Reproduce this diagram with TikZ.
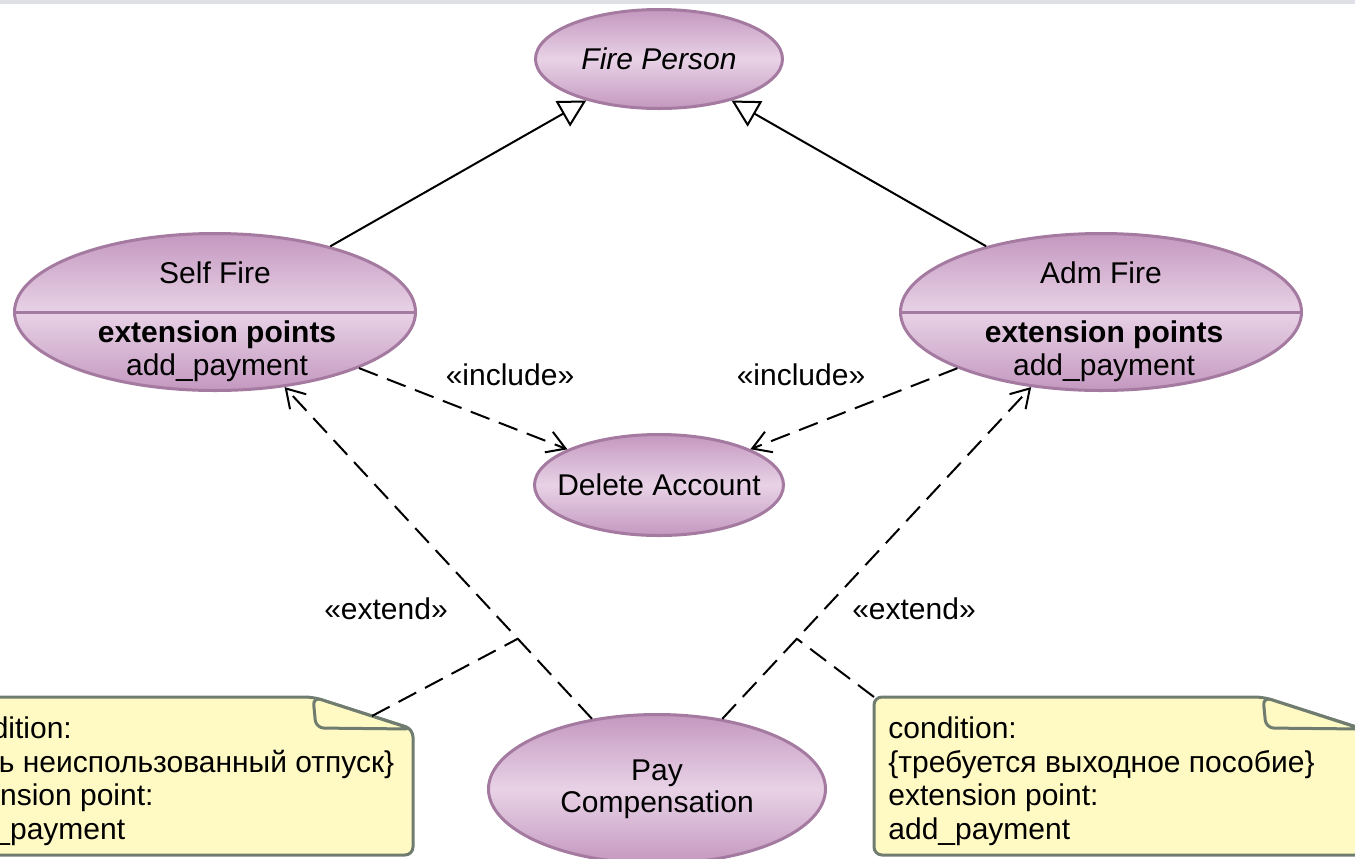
\documentclass[tikz,border=0pt]{standalone}
\usepackage{fontspec}
\setmainfont{Liberation Sans}
\usetikzlibrary{arrows.meta,calc,shapes.geometric}

\definecolor{ucfill}{RGB}{196,152,192}
\definecolor{ucmid}{RGB}{232,210,230}
\definecolor{ucline}{RGB}{164,122,160}
\definecolor{notefill}{RGB}{255,249,195}
\definecolor{noteline}{RGB}{112,124,112}
\definecolor{topbar}{RGB}{222,224,230}

\begin{document}
\begin{tikzpicture}[x=0.5pt,y=-0.5pt,font=\fontsize{15}{16.5}\selectfont,
usecase/.style={ellipse,draw=ucline,line width=1.5pt,top color=ucfill,bottom color=ucfill,middle color=ucmid,inner sep=0pt,align=center},
notebox/.style={draw=noteline,fill=notefill,line width=1.5pt,rounded corners=4pt,line join=round},
notetext/.style={anchor=west,align=left,inner sep=0pt,font=\fontsize{15}{16.75}\selectfont},
genlink/.style={line width=1pt,-{Triangle[open,length=13.5pt,width=14.5pt]}},
deplink/.style={line width=1pt,dash pattern=on 10pt off 5pt,-{Straight Barb[length=9pt,width=11pt]}},
notelink/.style={line width=1pt,dash pattern=on 10pt off 5pt},
stereo/.style={inner sep=0pt}]
\useasboundingbox (0,0) rectangle (1355,858);
\clip (0,0) rectangle (1355,858);
\fill[topbar] (0,0) rectangle (1355,4);

\begin{scope}[shift={(-76,697)}] %NOTE left
\draw[notebox] (0,160) -- (0,0) -- (389,0) -- (489,32) -- (489,158) -- (0,158);
\draw[notebox] (389,0) -- (392,31) -- (488,32) -- cycle;
\coordinate (lpin) at (448,19);
\node[notetext] (lnote) at (19,84) {condition:\\\{есть неиспользованный отпуск\}\\extension point:\\add\_payment};
\end{scope}
\begin{scope}[shift={(874,697)}] %NOTE right
\draw[notebox] (0,158) -- (0,0) -- (389,0) -- (489,32) -- (489,158) -- cycle;
\draw[notebox] (389,0) -- (392,31) -- (488,32) -- cycle;
\coordinate (rpin) at (0,0);
\node[notetext] (rnote) at (14,84) {condition:\\\{требуется выходное пособие\}\\extension point:\\add\_payment};
\end{scope}

\node[usecase,minimum width=123.5pt,minimum height=49.5pt,font=\fontsize{15}{16.5}\selectfont\itshape] (fire) at (659,59) {Fire Person};
\node[usecase,minimum width=200.5pt,minimum height=78.5pt] (self) at (215,312) {};
\node[usecase,minimum width=200.5pt,minimum height=78.5pt] (adm) at (1101,312) {};
\node[usecase,minimum width=124.5pt,minimum height=50.5pt] (del) at (659,485) {};
\node (delname) at (del.center) {Delete Account};
\node[usecase,minimum width=168.5pt,minimum height=74.5pt,font=\fontsize{15}{16}\selectfont] (pay) at (657,789) {Pay\\Compensation};

\draw[ucline,line width=1.5pt] (self.west) -- (self.east);
\draw[ucline,line width=1.5pt] (adm.west) -- (adm.east);
\node (selfname) at (215,273) {Self Fire};
\node[align=center,inner sep=0pt] (selfext) at (217,351) {\textbf{extension points}\\add\_payment};
\node (admname) at (1101,273) {Adm Fire};
\node[align=center,inner sep=0pt] (admext) at (1104,351) {\textbf{extension points}\\add\_payment};

\draw[genlink] (self) -- (fire);
\draw[genlink] (adm) -- (fire);
\draw[deplink] (self) -- (del);
\draw[deplink] (adm) -- (del);
\draw[deplink] (pay) -- (self);
\draw[deplink] (pay) -- (adm);
\node[stereo] (inclleft) at (510,375) {«include»};
\node[stereo] (inclright) at (801,375) {«include»};
\node[stereo] (extleft) at (386,609) {«extend»};
\node[stereo] (extright) at (914,609) {«extend»};

\coordinate (lkink) at ($(pay)!0.315!(self)$);
\coordinate (rkink) at ($(pay)!0.315!(adm)$);
\draw[notelink] (lpin) -- (lkink);
\draw[notelink] (rpin) -- (rkink);
\end{tikzpicture}
\end{document}
